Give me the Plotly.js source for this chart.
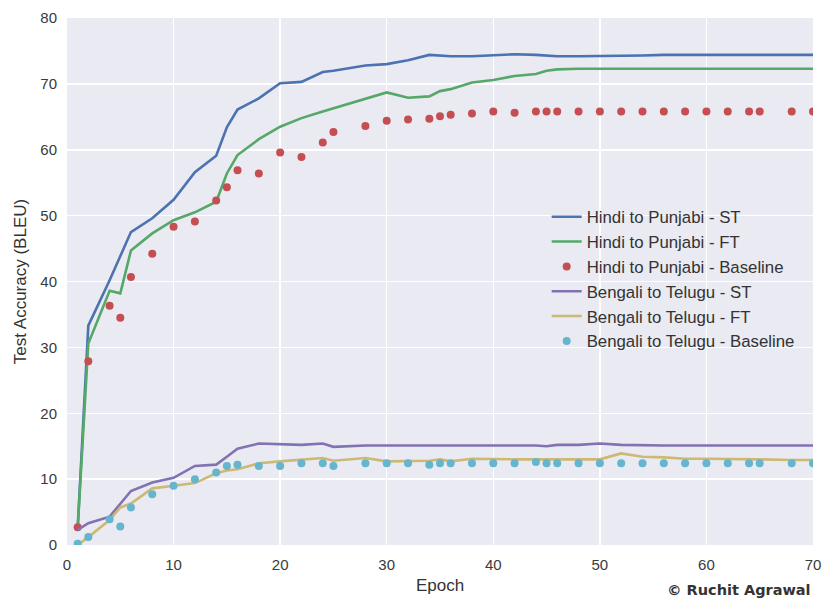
<!DOCTYPE html>
<html>
<head>
<meta charset="utf-8">
<script src="https://cdn.plot.ly/plotly-3.0.1.min.js"></script>
<style>
  html, body { margin: 0; padding: 0; background: #fff; }
  #chart { width: 822px; height: 598px; }
</style>
</head>
<body>
<div id="chart"></div>
<script>
// Epochs at which the models were evaluated
const epochs = [1, 2, 4, 5, 6, 8, 10, 12, 14, 15, 16, 18, 20, 22, 24, 25, 28, 30, 32, 34, 35, 36,
                38, 40, 42, 44, 45, 46, 48, 50, 52, 54, 56, 58, 60, 62, 64, 65, 68, 70];

// Hindi -> Punjabi test BLEU
const hiPaST = [2.5, 33.3, 40.2, 43.8, 47.5, 49.6, 52.4, 56.6, 59.1, 63.4, 66.1, 67.8, 70.1, 70.3, 71.8, 72.0,
                72.8, 73.0, 73.6, 74.4, 74.3, 74.2, 74.2, 74.3, 74.5, 74.4, 74.3, 74.2, 74.2, 74.2, 74.3,
                74.3, 74.4, 74.4, 74.4, 74.4, 74.4, 74.4, 74.5, 74.4];
const hiPaFT = [2.5, 30.6, 38.6, 38.2, 44.7, 47.3, 49.3, 50.5, 52.1, 56.4, 59.2, 61.6, 63.5, 64.8, 65.8, 66.3,
                67.8, 68.7, 67.9, 68.1, 68.9, 69.2, 70.2, 70.6, 71.2, 71.5, 72.0, 72.2, 72.3, 72.3, 72.3,
                72.3, 72.3, 72.3, 72.3, 72.3, 72.3, 72.3, 72.3, 72.3];
const hiPaBase = [2.7, 27.9, 36.3, 34.5, 40.7, 44.2, 48.3, 49.1, 52.3, 54.3, 56.9, 56.4, 59.6, 58.9, 61.1, 62.7,
                  63.6, 64.4, 64.6, 64.7, 65.1, 65.3, 65.5, 65.8, 65.6, 65.8, 65.8, 65.8, 65.8, 65.8, 65.8,
                  65.8, 65.8, 65.8, 65.8, 65.8, 65.8, 65.8, 65.8, 65.8];

// Bengali -> Telugu test BLEU
const bnTeST = [2.3, 3.3, 4.3, 6.3, 8.2, 9.5, 10.2, 12.0, 12.2, 13.4, 14.6, 15.4, 15.3, 15.2, 15.4, 14.9,
                15.1, 15.1, 15.2, 15.2, 15.2, 15.2, 15.1, 15.1, 15.2, 15.1, 15.0, 15.2, 15.2, 15.4, 15.2,
                15.1, 15.1, 15.1, 15.1, 15.1, 15.1, 15.1, 15.1, 15.1];
const bnTeFT = [0.0, 1.2, 3.8, 5.7, 6.3, 8.6, 9.0, 9.4, 10.9, 11.3, 11.5, 12.4, 12.7, 12.9, 13.2, 12.8,
                13.2, 12.7, 12.8, 12.8, 13.0, 12.7, 13.1, 13.0, 13.0, 13.0, 13.0, 13.0, 13.0, 13.0, 13.9,
                13.4, 13.3, 13.1, 13.1, 13.1, 13.0, 13.0, 12.9, 12.9];
const bnTeBase = [0.2, 1.2, 3.9, 2.8, 5.7, 7.7, 9.0, 10.0, 11.0, 12.0, 12.2, 12.0, 12.0, 12.4, 12.4, 12.0,
                  12.4, 12.4, 12.4, 12.2, 12.4, 12.4, 12.4, 12.4, 12.4, 12.6, 12.4, 12.4, 12.4, 12.4, 12.4,
                  12.4, 12.4, 12.4, 12.4, 12.4, 12.4, 12.4, 12.4, 12.4];

const xTicks = [0, 10, 20, 30, 40, 50, 60, 70];
const yTicks = [0, 10, 20, 30, 40, 50, 60, 70, 80];

const lineTrace = (name, y, color) => ({
  x: epochs, y: y, name: name, type: 'scatter', mode: 'lines',
  line: { color: color, width: 2.6 }
});
const dotTrace = (name, y, color) => ({
  x: epochs, y: y, name: name, type: 'scatter', mode: 'markers',
  marker: { color: color, size: 8, line: { width: 0 } }
});

const data = [
  lineTrace('Hindi to Punjabi - ST', hiPaST, '#4C72B0'),
  lineTrace('Hindi to Punjabi - FT', hiPaFT, '#55A868'),
  dotTrace('Hindi to Punjabi - Baseline', hiPaBase, '#C44E52'),
  lineTrace('Bengali to Telugu - ST', bnTeST, '#8172B2'),
  lineTrace('Bengali to Telugu - FT', bnTeFT, '#CCB974'),
  dotTrace('Bengali to Telugu - Baseline', bnTeBase, '#64B5CD')
];

const textFont = 'Liberation Sans, Arial, sans-serif';
const tickFont = { family: textFont, size: 15, color: '#3a3a3a' };

const layout = {
  width: 822, height: 598,
  margin: { l: 67, r: 9, t: 18, b: 53 },
  paper_bgcolor: '#ffffff',
  plot_bgcolor: '#EAEAF2',
  showlegend: true,
  legend: {
    x: 0.643, y: 0.656, xanchor: 'left', yanchor: 'top',
    bgcolor: 'rgba(0,0,0,0)',
    font: { family: textFont, size: 16.8, color: '#333333' },
    tracegroupgap: 0, itemwidth: 30
  },
  xaxis: {
    range: [0, 70], tickvals: xTicks, ticktext: xTicks.map(String),
    showgrid: true, gridcolor: '#ffffff', gridwidth: 1.5,
    zeroline: false, showline: false,
    ticks: 'outside', ticklen: 6, tickcolor: 'rgba(0,0,0,0)',
    tickfont: tickFont,
    title: { text: 'Epoch', font: { family: textFont, size: 17, color: '#333333' }, standoff: 7 }
  },
  yaxis: {
    range: [0, 80], tickvals: yTicks, ticktext: yTicks.map(String),
    showgrid: true, gridcolor: '#ffffff', gridwidth: 1.5,
    zeroline: false, showline: false,
    ticks: 'outside', ticklen: 6, tickcolor: 'rgba(0,0,0,0)',
    tickfont: tickFont,
    title: { text: 'Test Accuracy (BLEU)', font: { family: textFont, size: 17, color: '#333333' }, standoff: 9 }
  },
  annotations: [{
    xref: 'paper', yref: 'paper', x: 1.0, y: -0.085, xanchor: 'right', yanchor: 'middle',
    text: '<b>© Ruchit Agrawal</b>', showarrow: false,
    font: { family: 'DejaVu Sans, sans-serif', size: 14.5, color: '#333333' }
  }]
};

Plotly.newPlot('chart', data, layout, { displayModeBar: false, staticPlot: true });
</script>
</body>
</html>
